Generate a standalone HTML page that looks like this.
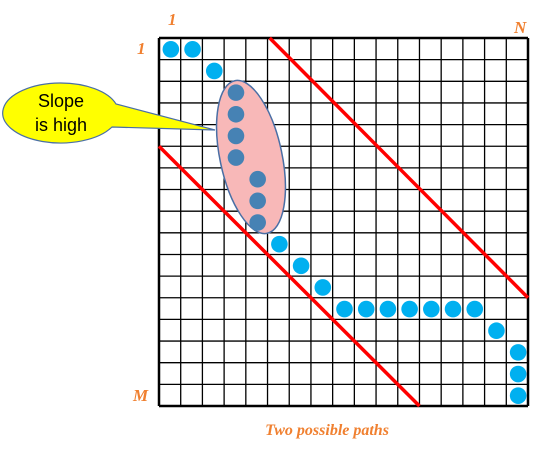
<!DOCTYPE html>
<html><head><meta charset="utf-8"><style>body{margin:0;background:#fff}svg{display:block}</style></head>
<body>
<svg width="543" height="453" viewBox="0 0 543 453">
<g id="grid"></g>
<g id="lines"></g>
<ellipse cx="251" cy="157" rx="31" ry="78" transform="rotate(-12 251 157)" fill="#f8b8b8" stroke="#4a6fa5" stroke-width="1.5"/>
<g id="dots"></g>
<path d="M60,83 A58,30 0 1 0 112,127 L215,130 L116,104 A58,30 0 0 0 60,83 Z" fill="#ffff00" stroke="#4a6fa5" stroke-width="1.2"/>
<text x="61" y="107" font-family="Liberation Sans, sans-serif" font-size="18" text-anchor="middle">Slope</text>
<text x="61" y="131" font-family="Liberation Sans, sans-serif" font-size="18" text-anchor="middle">is high</text>
<g font-family="Liberation Serif, serif" font-style="italic" font-weight="bold" fill="#f08030" font-size="17">
<text x="168" y="25">1</text>
<text x="137" y="54">1</text>
<text x="514" y="33">N</text>
<text x="133" y="401">M</text>
<text x="327" y="435" text-anchor="middle" font-size="16">Two possible paths</text>
</g>
</svg>
<script>
const N=17, X0=159, Y0=38, W=369, H=368;
const cw=W/N, ch=H/N;
const lightDots=[[0,0],[1,0],[2,1],[5,9],[6,10],[7,11],[8,12],[9,12],[10,12],[11,12],[12,12],[13,12],[14,12],[15,13],[16,14],[16,15],[16,16]];
const darkDots=[[3,2],[3,3],[3,4],[3,5],[4,6],[4,7],[4,8]];
const bandLines=[[5.1,0,17,12],[0,5,12,17]];
const ns="http://www.w3.org/2000/svg";
const xc=c=>X0+c*cw, yr=r=>Y0+r*ch;
const g=document.getElementById('grid');
for(let i=0;i<=N;i++){
 const v=document.createElementNS(ns,'line');
 v.setAttribute('x1',xc(i));v.setAttribute('x2',xc(i));v.setAttribute('y1',Y0);v.setAttribute('y2',Y0+H);
 v.setAttribute('stroke','#000');v.setAttribute('stroke-width',(i==0||i==N)?2.5:1.3);
 
 
 g.appendChild(v);
 const h=document.createElementNS(ns,'line');
 h.setAttribute('y1',yr(i));h.setAttribute('y2',yr(i));h.setAttribute('x1',X0);h.setAttribute('x2',X0+W);
 h.setAttribute('stroke','#000');h.setAttribute('stroke-width',(i==0||i==N)?2.5:1.3);
 
 
 g.appendChild(h);
}
const lg=document.getElementById('lines');
bandLines.forEach(b=>{
 const l=document.createElementNS(ns,'line');
 l.setAttribute('x1',xc(b[0]));l.setAttribute('y1',yr(b[1]));l.setAttribute('x2',xc(b[2]));l.setAttribute('y2',yr(b[3]));
 l.setAttribute('stroke','#ff0000');l.setAttribute('stroke-width',3.5);
 
 
 lg.appendChild(l);
});
const dg=document.getElementById('dots');
function dot(p,col,name){
 const c=document.createElementNS(ns,'circle');
 c.setAttribute('cx',xc(p[0]+0.5)+1);c.setAttribute('cy',yr(p[1]+0.5)+0.5);c.setAttribute('r',8.3);c.setAttribute('fill',col);
 
 
 dg.appendChild(c);
}
lightDots.forEach(p=>dot(p,'#00b0f0','path-dot'));
darkDots.forEach(p=>dot(p,'#4682b4','high-slope-dot'));
</script>
</body></html>
